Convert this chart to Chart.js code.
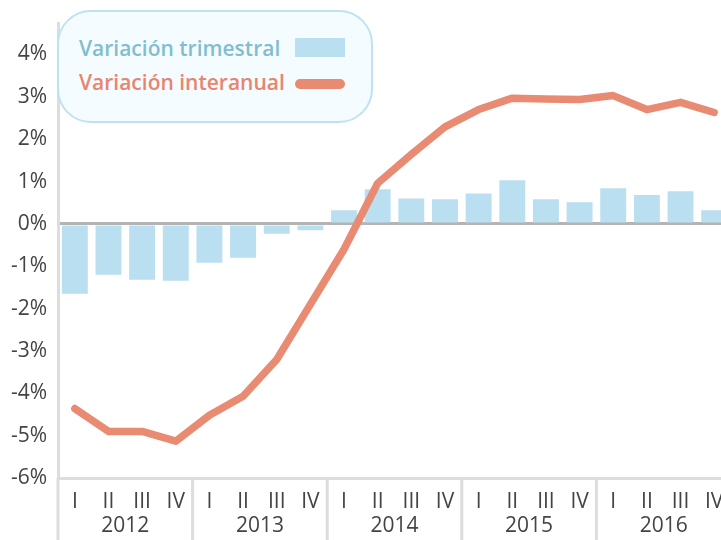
<!DOCTYPE html>
<html>
<head>
<meta charset="utf-8">
<script src="https://cdn.jsdelivr.net/npm/chart.js@4.4.1/dist/chart.umd.min.js"></script>
<style>
    html, body { margin: 0; padding: 0; background: #fff; overflow: hidden; }
    #wrap { position: relative; width: 731px; height: 540px; }
    #legendBox {
        position: absolute; left: 57px; top: 10px; width: 312px; height: 109px;
        border: 2px solid #bfe2f2; border-radius: 34px; background: #f5fcff;
        font-family: 'Open Sans', sans-serif; font-size: 21px; font-weight: 600;
    }
    .lg-row { position: absolute; left: 20px; white-space: nowrap; }
    .lg-sw { position: absolute; left: 236px; width: 50px; }
</style>
</head>
<body>
<div id="wrap">
    <canvas id="chart" width="731" height="540"></canvas>
    <div id="legendBox">
        <div class="lg-row" style="top:22px;color:#82bdd0;">Variación trimestral</div>
        <div class="lg-sw" style="top:26px;height:19px;background:#badff0;"></div>
        <div class="lg-row" style="top:56px;color:#e8856e;">Variación interanual</div>
        <div class="lg-sw" style="top:67px;height:10px;border-radius:5px;background:#e88b72;"></div>
    </div>
</div>
<script>
'use strict';

var quarters = ['I', 'II', 'III', 'IV', 'I', 'II', 'III', 'IV', 'I', 'II', 'III', 'IV', 'I', 'II', 'III', 'IV', 'I', 'II', 'III', 'IV'];
var years = ['2012', '2013', '2014', '2015', '2016'];

var trimestral = [-1.65, -1.2, -1.32, -1.34, -0.92, -0.8, -0.23, -0.15, 0.32, 0.82, 0.6, 0.58, 0.72, 1.03, 0.58, 0.51, 0.84, 0.68, 0.77, 0.32];
var interanual = [-4.36, -4.9, -4.9, -5.13, -4.52, -4.07, -3.2, -1.9, -0.6, 0.96, 1.64, 2.29, 2.7, 2.97, 2.95, 2.94, 3.03, 2.7, 2.87, 2.63];

var yTicks = [-6, -5, -4, -3, -2, -1, 0, 1, 2, 3, 4];

var FONT = "'Open Sans', sans-serif";

// year labels and year separators under the quarter ticks
var yearAxisPlugin = {
    id: 'yearAxis',
    afterDraw: function (chart) {
        var ctx = chart.ctx;
        var xs = chart.scales.x;
        var step = xs.width / quarters.length;
        var top = chart.chartArea.bottom;
        ctx.save();
        ctx.strokeStyle = '#dddddd';
        ctx.lineWidth = 3;
        years.forEach(function (yr, k) {
            var bx = xs.getPixelForValue(k * 4) - step / 2;
            ctx.beginPath();
            ctx.moveTo(bx, top);
            ctx.lineTo(bx, chart.height);
            ctx.stroke();
            var cx = (xs.getPixelForValue(k * 4 + 1) + xs.getPixelForValue(k * 4 + 2)) / 2;
            ctx.fillStyle = '#444444';
            ctx.font = '21px ' + FONT;
            ctx.textAlign = 'center';
            ctx.textBaseline = 'middle';
            ctx.fillText(yr, cx, top + 48);
        });
        ctx.restore();
    }
};

new Chart(document.getElementById('chart'), {
    data: {
        labels: quarters,
        datasets: [{
            type: 'line',
            data: interanual,
            borderColor: '#e88b72',
            borderWidth: 7.5,
            borderCapStyle: 'round',
            borderJoinStyle: 'round',
            pointRadius: 0,
            tension: 0,
            order: 0
        }, {
            type: 'bar',
            data: trimestral,
            backgroundColor: '#badff0',
            barPercentage: 0.77,
            categoryPercentage: 1,
            order: 1
        }]
    },
    options: {
        responsive: false,
        animation: false,
        layout: { padding: { top: 0, right: 0, left: 0, bottom: 0 } },
        plugins: { legend: { display: false }, tooltip: { enabled: false } },
        scales: {
            x: {
                offset: true,
                grid: { display: false },
                border: { display: true, color: '#dddddd', width: 3 },
                ticks: { color: '#444444', font: { family: FONT, size: 21 }, padding: 3, maxRotation: 0, autoSkip: false },
                afterFit: function (s) { s.height = 62; }
            },
            y: {
                min: -6,
                max: 4.73,
                afterBuildTicks: function (s) {
                    s.ticks = yTicks.map(function (v) { return { value: v }; });
                },
                grid: {
                    drawTicks: false,
                    lineWidth: 3,
                    color: function (c) { return c.tick && c.tick.value === 0 ? '#b4b4b4' : 'rgba(0,0,0,0)'; }
                },
                border: { display: true, color: '#dddddd', width: 3 },
                ticks: {
                    color: '#444444',
                    font: { family: FONT, size: 21 },
                    padding: 11,
                    callback: function (v) { return v + '%'; }
                },
                afterFit: function (s) { s.width = 58; }
            }
        }
    },
    plugins: [yearAxisPlugin]
});
</script>
</body>
</html>
